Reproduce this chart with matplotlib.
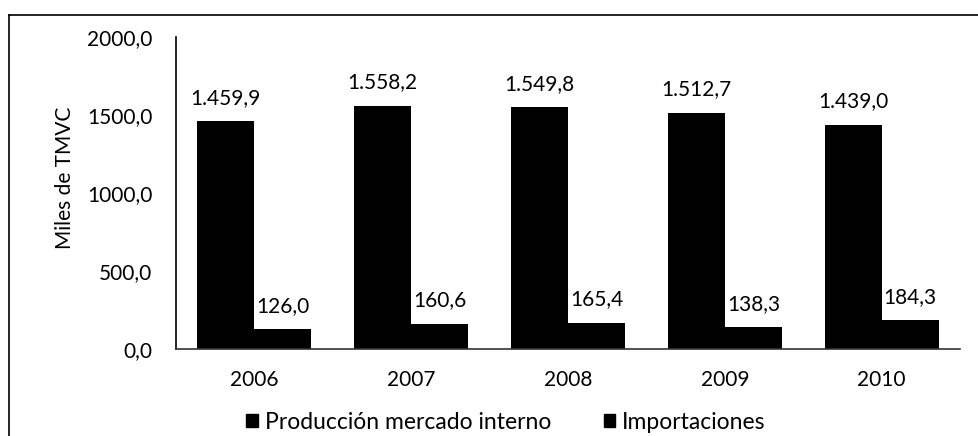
import matplotlib
matplotlib.use("Agg")
import matplotlib.pyplot as plt
from matplotlib.lines import Line2D
from matplotlib.patches import Patch
import numpy as np

years = ["2006", "2007", "2008", "2009", "2010"]
produccion = [1459.9, 1558.2, 1549.8, 1512.7, 1439.0]
importaciones = [126.0, 160.6, 165.4, 138.3, 184.3]
series_names = ["Producción mercado interno", "Importaciones"]
yticks = [0, 500, 1000, 1500, 2000]

plt.rcParams['font.family'] = ['Lato', 'DejaVu Sans']
FS = 15
LFS = 16.5

W, H = 979, 436
fig = plt.figure(figsize=(W / 100, H / 100), dpi=100)
ax = fig.add_axes([176 / W, 1 - 349 / H, (960 - 176) / W, (349 - 37) / H])

x = np.arange(len(years))
bw = 0.364
b1 = ax.bar(x - bw / 2, produccion, width=bw, color='black')
b2 = ax.bar(x + bw / 2, importaciones, width=bw, color='black')


def fmt_val(v):
    s = f"{v:,.1f}"
    return s.replace(",", "X").replace(".", ",").replace("X", ".")


for bars, vals in ((b1, produccion), (b2, importaciones)):
    for rect, v in zip(bars, vals):
        ax.annotate(fmt_val(v), (rect.get_x() + rect.get_width() / 2, v),
                    xytext=(0, 17), textcoords='offset points',
                    ha='center', va='center', fontsize=FS, color='black')

ax.set_xlim(-0.5, len(years) - 0.5)
ax.set_ylim(0, 2000)
ax.set_yticks(yticks)
ax.set_yticklabels([f"{t:.1f}".replace(".", ",") for t in yticks], fontsize=FS)
ax.set_xticks(x)
ax.set_xticklabels(years, fontsize=FS)
ax.tick_params(axis='y', length=0, pad=17)
ax.tick_params(axis='x', length=0, pad=15)
for s in ('top', 'right'):
    ax.spines[s].set_visible(False)
ax.spines['left'].set_color('black')
ax.spines['left'].set_linewidth(1.2)
ax.spines['bottom'].set_color('#333333')
ax.spines['bottom'].set_linewidth(1.2)

fig.text(65 / W, 1 - 178 / H, "Miles de TMVC", rotation=90, ha='center', va='center',
         fontsize=FS)

handles = [Patch(facecolor='black', edgecolor='black'), Patch(facecolor='black', edgecolor='black')]
fig.legend(handles, series_names, loc='center', bbox_to_anchor=(506 / W, 1 - 422 / H),
           ncol=2, frameon=False, fontsize=LFS, handlelength=0.5, handleheight=0.5,
           handletextpad=0.3, columnspacing=2.3, borderaxespad=0, borderpad=0)

# outer frame (top and left edges)
fig.add_artist(Line2D([9 / W, 1.0], [1 - 15 / H, 1 - 15 / H], color='black', lw=1.2))
fig.add_artist(Line2D([9 / W, 9 / W], [1 - 15 / H, 0.0], color='black', lw=1.2))

fig.savefig("out.png", dpi=100)
